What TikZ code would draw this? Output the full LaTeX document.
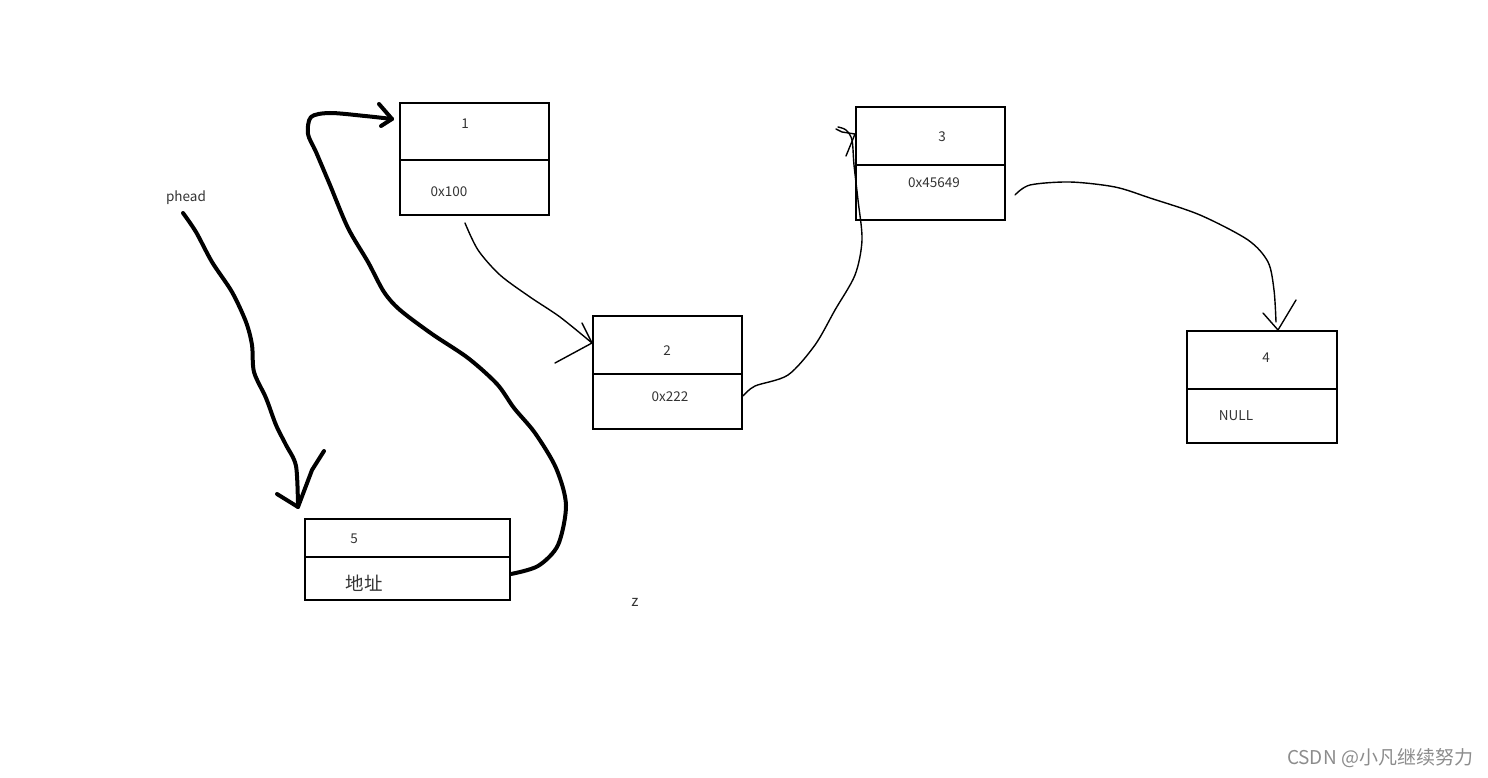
\documentclass[tikz,border=0pt]{standalone}
\usepackage{fontspec}
\setmainfont{Noto Sans CJK SC}
\begin{document}
\begin{tikzpicture}[x=1pt,y=-1pt,
  box/.style={draw=black, line width=2pt, rectangle, inner sep=0pt},
  lbl/.style={font=\fontsize{13.5}{15}\selectfont, text=black!80, inner sep=0pt},
  thick curve/.style={line width=4pt, line cap=round, line join=round},
  thin curve/.style={line width=1.4pt, line cap=round, line join=round}]
\useasboundingbox (0,0) rectangle (1488,778);
% boxes
\node[box, minimum width=149pt, minimum height=112pt] (b1) at (474.5,159) {};
\node[box, minimum width=149pt, minimum height=113pt] (b2) at (667.5,372.5) {};
\node[box, minimum width=149pt, minimum height=113pt] (b3) at (930.5,163.5) {};
\node[box, minimum width=150pt, minimum height=112pt] (b4) at (1262,387) {};
\node[box, minimum width=205pt, minimum height=81pt] (b5) at (407.5,559.5) {};
% dividers
\draw[line width=2pt] (b1.west |- 0,160) -- (b1.east |- 0,160);
\draw[line width=2.5pt] (b2.west |- 0,374) -- (b2.east |- 0,374);
\draw[line width=1.8pt] (b3.west |- 0,165) -- (b3.east |- 0,165);
\draw[line width=2pt] (b4.west |- 0,389) -- (b4.east |- 0,389);
\draw[line width=2pt] (b5.west |- 0,557) -- (b5.east |- 0,557);
% labels
\node[lbl] (t1) at (465,124) {1};
\node[lbl] (t1b) at (449,192) {0x100};
\node[lbl] (t2) at (667,351) {2};
\node[lbl] (t2b) at (670,397) {0x222};
\node[lbl] (t3) at (942,137) {3};
\node[lbl] (t3b) at (934,183) {0x45649};
\node[lbl] (t4) at (1266,358) {4};
\node[lbl] (t4b) at (1236,416) {NULL};
\node[lbl] (t5) at (354,539) {5};
\node[lbl, font=\fontsize{18.5}{20}\selectfont] (t5b) at (364,583) {地址};
\node[lbl] (ph) at (186,198) {phead};
\node[lbl, font=\fontsize{15}{16}\selectfont] (z) at (635,602) {z};
\node[inner sep=0pt, text=black!45, font=\fontsize{19}{21}\selectfont] (wm) at (1380,758) {CSDN @小凡继续努力};
% named end points
\coordinate (p0) at (183,213);
\coordinate (p5) at (298,507);
\coordinate (q0) at (b5.east |- 0,574);
\coordinate (q1) at (392,119);
\coordinate (r0) at (465,223);
\coordinate (r1) at (b2.west |- 0,343);
\coordinate (s0) at (b2.east |- 0,396);
\coordinate (s1) at (b3.west |- 0,134);
\coordinate (u0) at (1015,195);
\coordinate (u1) at (b4.north -| 1278,0);
% phead -> 5
\draw[thick curve] plot[smooth, tension=0.5] coordinates {(p0) (196,232) (212,262) (232,292) (246,322) (252,345) (254,372) (266,398) (276,425) (286,445) (296,466) (p5)};
\draw[thick curve] (277,494) -- (p5) -- (312,470) -- (324,451);
% 5 -> 1
\draw[thick curve] plot[smooth, tension=0.5] coordinates {(q0) (538,566) (558,545) (566,505) (556,468) (535,433) (514,408) (497,384) (468,358) (432,334) (400,310) (384,292) (368,262) (348,228) (330,185) (316,152) (308,134) (311,117) (330,113) (365,116) (q1)};
\draw[thick curve] (379,104) -- (q1) -- (381,126);
% 1 -> 2
\draw[thin curve] plot[smooth, tension=0.5] coordinates {(r0) (478,250) (500,275) (530,297) (560,317) (r1)};
\draw[thin curve] (582,323) -- (r1) -- (555,363);
% 2 -> 3
\draw[thin curve] plot[smooth, tension=0.5] coordinates {(s0) (755,386) (788,375) (815,345) (835,310) (855,275) (862,240) (858,200) (854,165) (852,140) (846,130) (838,127)};
\draw[thin curve] (836,129) -- (842,132) -- (s1) -- (846,156);
% 3 -> 4
\draw[thin curve] plot[smooth, tension=0.5] coordinates {(u0) (1030,185) (1070,182) (1115,187) (1150,198) (1200,215) (1248,240) (1268,262) (1274,290) (1276,322)};
\draw[thin curve] (1263,313) -- (u1) -- (1296,300);
\end{tikzpicture}
\end{document}
